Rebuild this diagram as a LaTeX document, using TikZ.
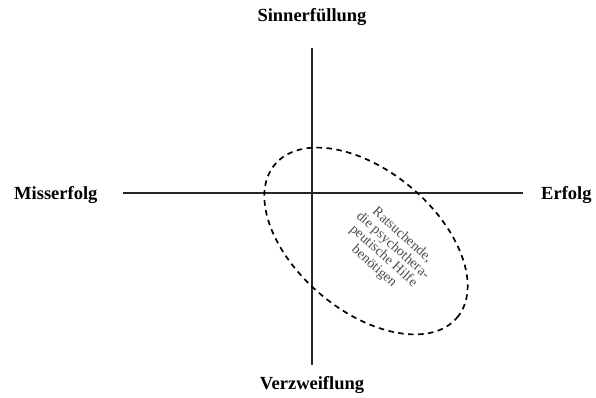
\documentclass[tikz,border=0pt]{standalone}
\usepackage{fontspec}
\setmainfont{Liberation Serif}
\usetikzlibrary{shapes.geometric}
\begin{document}
\begin{tikzpicture}[x=1pt,y=1pt,
  axis/.style={line width=1.3pt, black!85},
  axlabel/.style={font=\bfseries\fontsize{18.5}{20}\selectfont, inner sep=0pt},
  group/.style={draw, line width=1.7pt, dash pattern=on 5.5pt off 4.5pt},
  grouptext/.style={font=\fontsize{14}{14}\selectfont, text=black!70, align=center, inner sep=0pt}]
\useasboundingbox (0,0) rectangle (596,397);
% axis endpoints
\coordinate (L) at (123,204);
\coordinate (R) at (523,204);
\coordinate (T) at (312,349);
\coordinate (B) at (312,32);
\draw[axis] (L) -- (R);
\draw[axis] (T) -- (B);
% labels
\node[axlabel] (top) at (312,380) {Sinnerfüllung};
\node[axlabel] (bot) at (312,12) {Verzweiflung};
\node[axlabel, anchor=west] (left) at (14,202) {Misserfolg};
\node[axlabel, anchor=west] (right) at (541,202) {Erfolg};
% ellipse group
\node[group, ellipse, minimum width=238pt, minimum height=140pt, rotate=-40, inner sep=0pt] (ell) at (366,156) {};
\node[grouptext, rotate=-42] (txt) at (388,146) {Ratsuchende,\\die psychothera-\\peutische Hilfe\\benötigen};
\end{tikzpicture}
\end{document}
